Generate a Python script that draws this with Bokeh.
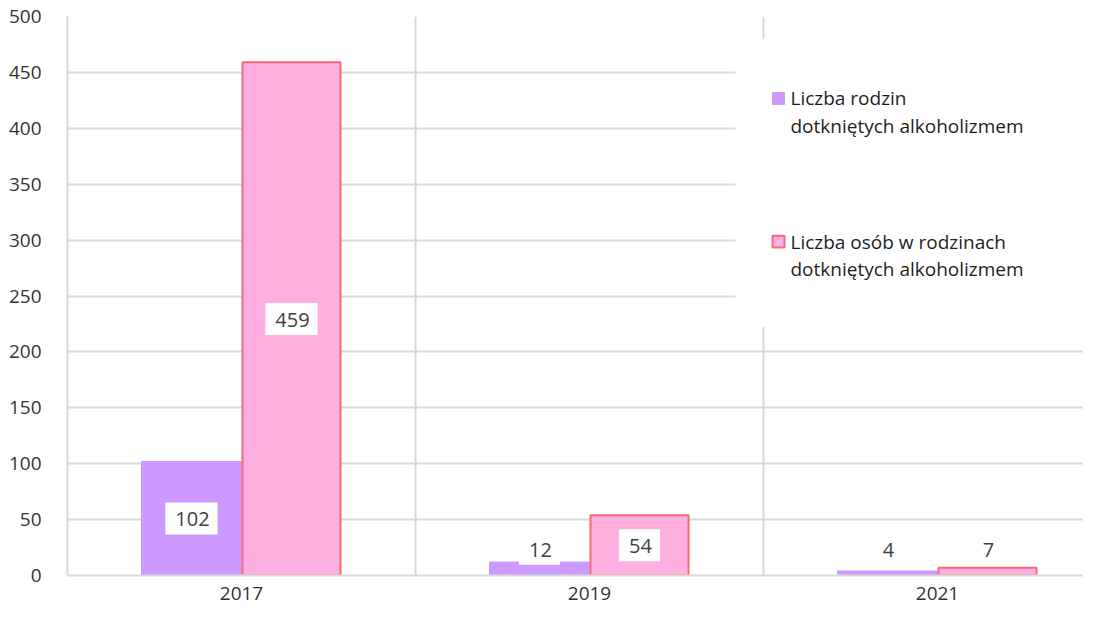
import numpy as np
from bokeh.plotting import figure
from bokeh.models import (ColumnDataSource, FixedTicker, Range1d, Label, BoxAnnotation)
from bokeh.core.properties import value
from bokeh.embed import file_html
from bokeh.resources import INLINE

years = ["2017", "2019", "2021"]
rodziny = [102, 12, 4]
osoby = [459, 54, 7]
y_ticks = [0, 50, 100, 150, 200, 250, 300, 350, 400, 450, 500]
legend_lines_1 = ["Liczba rodzin", "dotkniętych alkoholizmem"]
legend_lines_2 = ["Liczba osób w rodzinach", "dotkniętych alkoholizmem"]

FONT = "Open Sans"
TXT = "#404040"
TICK = "#333333"
GRID = "#D9D9D9"
PURPLE = "#CC99FF"
PINK = "#FFB0E0"
RED = "#FF6674"

# pixel helpers (category = 348 px, y unit = 1.132 px in the reference)
CAT_PX = 348.0
Y_PX = 1.132
def hx(px):  # horizontal offset from frame left, in category units
    return px / CAT_PX
def vy(px):  # height above baseline, in value units
    return px / Y_PX

n = len(years)
centers = np.arange(n) + 0.5
bw = hx(100)

W, H = 1083, 609
LEFT, TOP, BOTTOM = 67, 16, 34
frame_w = W - LEFT

p = figure(width=W, height=H, output_backend="svg", toolbar_location=None,
           min_border_left=LEFT, min_border_right=0, min_border_top=TOP, min_border_bottom=BOTTOM,
           x_range=Range1d(0, frame_w / CAT_PX), y_range=Range1d(0, 500))
p.outline_line_color = None
p.background_fill_color = "white"

src1 = ColumnDataSource(dict(x=centers - bw / 2, top=rodziny,
                             lab=[str(v) for v in rodziny],
                             ly=[max(v / 2, 24) for v in rodziny]))
src2 = ColumnDataSource(dict(x=centers + bw / 2, top=osoby,
                             lab=[str(v) for v in osoby],
                             ly=[max(v / 2, 24) for v in osoby]))

r1 = p.vbar(x="x", top="top", width=bw, source=src1, fill_color=PURPLE, line_color=PURPLE, line_width=1)
r2 = p.vbar(x="x", top="top", width=bw - hx(2), source=src2, fill_color=PINK, line_color=RED, line_width=2)

for s in (src1, src2):
    p.text(x="x", y="ly", text="lab", source=s, text_align="center", text_baseline="middle",
           text_font=value(FONT), text_font_size="20px", text_color=TXT,
           background_fill_color="white", padding=[10, 8, 10, 8])

# axes
p.yaxis.ticker = FixedTicker(ticks=y_ticks)
p.xaxis.ticker = FixedTicker(ticks=list(centers))
p.xaxis.major_label_overrides = {float(c): y for c, y in zip(centers, years)}
for ax in (p.xaxis, p.yaxis):
    ax.major_tick_line_color = None
    ax.minor_tick_line_color = None
    ax.axis_line_color = GRID
    ax.axis_line_width = 2
    ax.major_label_text_font = FONT
    ax.major_label_text_font_size = "19px"
    ax.major_label_text_color = TICK
p.yaxis.major_label_standoff = 20
p.xaxis.major_label_standoff = 5

p.ygrid.grid_line_color = GRID
p.ygrid.grid_line_width = 2
p.xgrid.ticker = FixedTicker(ticks=[1, 2, 3])
p.xgrid.grid_line_color = GRID
p.xgrid.grid_line_width = 2

# legend (drawn by hand so that the swatch sits on the first line)
LX = hx(735 - 67)
p.add_layout(BoxAnnotation(left=LX, bottom=vy(585 - 333), top=vy(585 - 42),
                           fill_color="white", fill_alpha=1, line_color=None, level="annotation"))
sw_l, sw_r = hx(772 - 67), hx(784 - 67)
txt_x = hx(790 - 67)
items = [(legend_lines_1, PURPLE, PURPLE, 1, 102), (legend_lines_2, PINK, RED, 2, 247)]
for lines, fc, lc, lw, cy in items:
    p.add_layout(BoxAnnotation(left=sw_l, right=sw_r, bottom=vy(585 - cy - 6), top=vy(585 - cy + 6),
                               fill_color=fc, fill_alpha=1, line_color=lc, line_width=lw,
                               line_alpha=1))
    for k, line in enumerate(lines):
        p.add_layout(Label(x=txt_x, y=vy(585 - cy - 28 * k), text=line, text_baseline="middle",
                           text_align="left", text_font=FONT, text_font_size="19px",
                           text_color="#1E1E1E"))

open("out.html", "w").write(file_html(p, INLINE))
